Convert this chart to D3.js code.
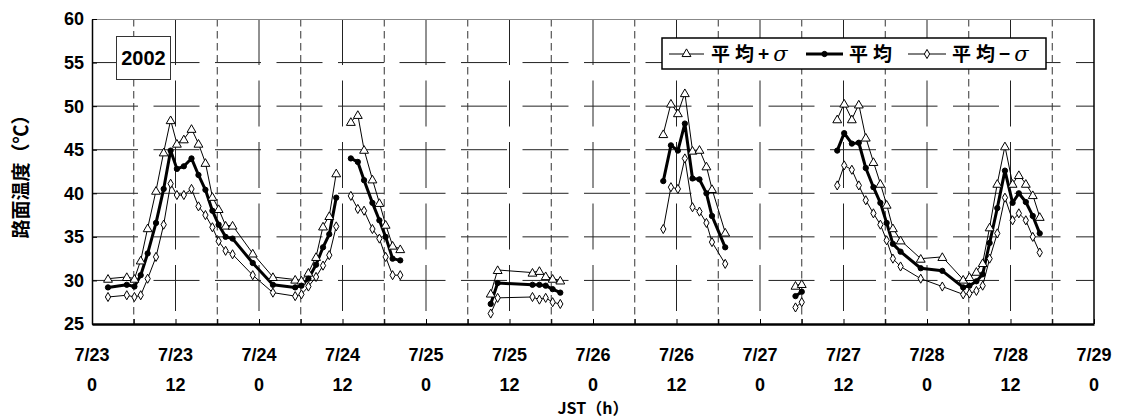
<!DOCTYPE html>
<html>
<head>
<meta charset="utf-8">
<script src="https://cdn.jsdelivr.net/npm/d3@7"></script>
<style>
  body { margin: 0; background: #fff; }
  svg { display: block; }
</style>
</head>
<body>
<svg id="chart" width="1122" height="419"></svg>
<script>
// Hours elapsed since 7/23 00:00 JST; null marks a break in the record.
const hours = [
  2.3, 5.0, 6.1, 7.0, 8.0, 9.2, 10.3, 11.3, 12.2, 13.2, 14.3, 15.3, 16.3, 17.3, 18.2, 19.2, 20.2, 23.1, 26.0, 29.2, 30.1, 31.1, 32.2, 33.2, 34.1, 35.1, null,
  37.2, 38.2, 39.1, 40.3, 41.3, 42.2, 43.2, 44.3, null,
  57.3, 58.3, 63.3, 64.3, 65.2, 66.2, 67.3, null,
  82.1, 83.2, 84.2, 85.2, 86.3, 87.3, 88.3, 89.1, 91.0, null,
  101.1, 102.0, null,
  107.1, 108.1, 109.2, 110.2, 111.2, 112.3, 113.3, 114.2, 115.1, 116.2, 119.1, 122.2, 125.2, 126.1, 127.1, 128.0, 129.0, 130.1, 131.2, 132.3, 133.2, 134.2, 135.2, 136.2
];

// Road surface temperature (°C): mean + sigma
const plusSigma = [
  30.2, 30.4, 30.2, 32.3, 36.0, 40.3, 44.7, 48.4, 45.7, 46.2, 47.4, 45.7, 43.5, 39.6, 38.2, 36.3, 36.3, 33.1, 30.4, 30.1, 30.0, 30.9, 32.7, 36.2, 37.4, 42.3, null,
  48.2, 49.0, 45.0, 41.6, 38.9, 36.4, 34.0, 33.6, null,
  28.5, 31.2, 30.9, 31.1, 30.5, 30.2, 30.0, null,
  46.8, 50.3, 49.2, 51.5, 44.9, 45.0, 43.1, 40.5, 35.5, null,
  29.4, 29.6, null,
  48.5, 50.3, 48.5, 50.2, 46.4, 43.6, 41.1, 38.7, 36.0, 34.6, 32.5, 32.7, 30.1, 30.4, 31.0, 32.0, 36.1, 41.1, 45.4, 41.1, 42.1, 41.1, 39.8, 37.3
];

// Road surface temperature (°C): mean
const meanTemp = [
  29.2, 29.5, 29.3, 30.6, 33.1, 36.6, 40.5, 44.9, 42.8, 43.1, 44.0, 42.1, 40.4, 38.0, 36.4, 35.0, 34.8, 32.0, 29.5, 29.2, 29.4, 30.2, 31.8, 33.8, 35.3, 39.5, null,
  44.0, 43.6, 41.5, 38.9, 36.9, 35.0, 32.5, 32.3, null,
  27.3, 29.7, 29.5, 29.5, 29.4, 29.0, 28.6, null,
  41.4, 45.5, 44.9, 48.0, 41.7, 41.6, 40.0, 37.4, 33.8, null,
  28.2, 28.7, null,
  44.9, 46.9, 45.7, 45.8, 42.9, 40.7, 38.9, 36.6, 34.2, 33.3, 31.4, 31.1, 29.2, 29.4, 29.9, 30.7, 34.3, 38.3, 42.6, 38.9, 40.0, 39.0, 37.4, 35.4
];

// Road surface temperature (°C): mean - sigma
const minusSigma = [
  28.1, 28.3, 28.1, 28.3, 30.2, 32.7, 36.4, 41.1, 39.8, 39.8, 40.5, 38.5, 37.5, 36.1, 34.5, 33.4, 33.0, 30.6, 28.6, 28.2, 28.4, 29.3, 30.4, 31.7, 32.9, 36.2, null,
  39.7, 38.2, 38.0, 35.9, 34.8, 32.7, 30.6, 30.6, null,
  26.2, 28.0, 28.1, 27.8, 28.0, 27.5, 27.3, null,
  35.9, 40.7, 40.5, 44.0, 38.4, 37.9, 36.6, 34.4, 31.9, null,
  26.9, 27.5, null,
  40.9, 43.2, 42.7, 40.9, 39.2, 37.7, 36.4, 34.6, 32.5, 31.6, 30.2, 29.3, 28.4, 28.5, 28.8, 29.4, 32.5, 35.4, 39.5, 36.9, 37.7, 36.9, 35.0, 33.2
];

// Axis labels
const dateLabels = ["7/23", "7/23", "7/24", "7/24", "7/25", "7/25", "7/26", "7/26", "7/27", "7/27", "7/28", "7/28", "7/29"];
const hourLabels = ["0", "12", "0", "12", "0", "12", "0", "12", "0", "12", "0", "12", "0"];
const yTicks = [25, 30, 35, 40, 45, 50, 55, 60];

// Legend entries: Japanese stem + suffix (σ is set in italics)
const seriesNames = [["平均", "+", "σ"], ["平均", "", ""], ["平均", "−", "σ"]];
const yearLabel = "2002";

// ---- layout ----
const svg = d3.select("#chart");
const plot = { left: 92, right: 1094, top: 19, bottom: 324 };
const numFont = "'Liberation Sans', Arial, sans-serif";
const cjkFont = "'Noto Sans CJK JP', 'Liberation Sans', sans-serif";

const x = d3.scaleLinear().domain([0, 144]).range([plot.left, plot.right]);
const y = d3.scaleLinear().domain([25, 60]).range([plot.bottom, plot.top]);

// ---- grid ----
const grid = svg.append("g");
// horizontal gridlines
grid.selectAll("line.h").data(yTicks.filter(v => v > 25 && v < 60)).join("line")
  .attr("x1", plot.left).attr("x2", plot.right)
  .attr("y1", d => y(d)).attr("y2", d => y(d))
  .attr("stroke", "#222").attr("stroke-width", 1)
  .attr("stroke-dasharray", "46,15.5");
// vertical gridlines: 12 h long dashes, 6 h short dashes
const vHours = d3.range(6, 144, 6);
grid.selectAll("line.v").data(vHours).join("line")
  .attr("x1", d => x(d)).attr("x2", d => x(d))
  .attr("y1", plot.top).attr("y2", plot.bottom)
  .attr("stroke", d => d % 12 === 0 ? "#222" : "#333").attr("stroke-width", 1)
  .attr("stroke-dasharray", d => d % 12 === 0 ? "46,15.5" : "7.5,4.5");

// ---- frame and axes ----
svg.append("line").attr("x1", plot.left).attr("x2", plot.right)
  .attr("y1", plot.top + 0.5).attr("y2", plot.top + 0.5)
  .attr("stroke", "#888").attr("stroke-width", 1);
svg.append("line").attr("x1", plot.right).attr("x2", plot.right)
  .attr("y1", plot.top).attr("y2", plot.bottom)
  .attr("stroke", "#000").attr("stroke-width", 1.5);

const xAxis = d3.axisBottom(x).tickValues(d3.range(0, 145, 6))
  .tickSizeInner(-5).tickSizeOuter(0).tickFormat("");
svg.append("g").attr("transform", `translate(0,${plot.bottom})`).call(xAxis)
  .call(g => g.select(".domain").attr("stroke", "#000").attr("stroke-width", 2.5))
  .call(g => g.selectAll(".tick line").attr("stroke", "#000").attr("stroke-width", 1));

const yAxis = d3.axisLeft(y).tickValues(yTicks).tickSizeInner(-5).tickSizeOuter(0).tickFormat("");
svg.append("g").attr("transform", `translate(${plot.left},0)`).call(yAxis)
  .call(g => g.select(".domain").attr("stroke", "#000").attr("stroke-width", 1.5))
  .call(g => g.selectAll(".tick line").attr("stroke", "#000"));

// y tick labels
svg.append("g").selectAll("text").data(yTicks).join("text")
  .attr("x", 84).attr("y", d => y(d)).attr("dy", "0.36em")
  .attr("text-anchor", "end")
  .attr("font-family", numFont).attr("font-weight", "bold").attr("font-size", 18)
  .text(d => d);

// x tick labels: date over hour
const xLab = svg.append("g").selectAll("g").data(dateLabels).join("g")
  .attr("transform", (d, i) => `translate(${x(i * 12)},0)`);
xLab.append("text").attr("y", 361).attr("text-anchor", "middle")
  .attr("font-family", numFont).attr("font-weight", "bold").attr("font-size", 18)
  .text(d => d);
xLab.append("text").attr("y", 391).attr("text-anchor", "middle")
  .attr("font-family", numFont).attr("font-weight", "bold").attr("font-size", 18)
  .text((d, i) => hourLabels[i]);

// axis titles
svg.append("text").attr("x", (plot.left + plot.right) / 2).attr("y", 414)
  .attr("text-anchor", "middle")
  .attr("font-family", cjkFont).attr("font-weight", "bold").attr("font-size", 16)
  .text("JST（h）");
svg.append("text").attr("transform", "translate(28,172) rotate(-90)")
  .attr("text-anchor", "middle")
  .attr("font-family", cjkFont).attr("font-weight", "bold").attr("font-size", 19)
  .text("路面温度（℃）");

// ---- series ----
const rows = hours.map((h, i) => ({ h, p: plusSigma[i], m: meanTemp[i], n: minusSigma[i] }));
const lineFor = key => d3.line().defined(d => d.h != null && d[key] != null)
  .x(d => x(d.h)).y(d => y(d[key]));

const series = [
  { key: "n", width: 1, marker: "diamond" },
  { key: "p", width: 1, marker: "triangle" },
  { key: "m", width: 3, marker: "circle" }
];

const triSym = d3.symbol().type(d3.symbolTriangle).size(34);
const diaSym = d3.symbol().type(d3.symbolDiamond).size(24);
const dotSym = d3.symbol().type(d3.symbolCircle).size(22);

series.forEach(s => {
  svg.append("path").datum(rows).attr("d", lineFor(s.key))
    .attr("fill", "none").attr("stroke", "#000").attr("stroke-width", s.width)
    .attr("stroke-linejoin", "round");
});
series.forEach(s => {
  const pts = rows.filter(d => d.h != null && d[s.key] != null);
  const sym = s.marker === "triangle" ? triSym : s.marker === "diamond" ? diaSym : dotSym;
  svg.append("g").selectAll("path").data(pts).join("path")
    .attr("transform", d => `translate(${x(d.h)},${y(d[s.key]) + (s.marker === "triangle" ? 1 : 0)})`)
    .attr("d", sym)
    .attr("fill", s.marker === "circle" ? "#000" : "#fff")
    .attr("stroke", "#000").attr("stroke-width", 1);
});

// ---- year box ----
svg.append("rect").attr("x", 116.5).attr("y", 36.5).attr("width", 54).attr("height", 43)
  .attr("fill", "#fff").attr("stroke", "#333").attr("stroke-width", 1);
svg.append("text").attr("x", 143.5).attr("y", 58).attr("dy", "0.36em")
  .attr("text-anchor", "middle")
  .attr("font-family", numFont).attr("font-weight", "bold").attr("font-size", 20)
  .text(yearLabel);

// ---- legend ----
const legend = svg.append("g");
legend.append("rect").attr("x", 662).attr("y", 38).attr("width", 384).attr("height", 31)
  .attr("fill", "#fff").attr("stroke", "#000").attr("stroke-width", 1.5);
const legendItems = [
  { name: seriesNames[0], x0: 669, x1: 704, tx: 711, width: 1, sym: triSym, fill: "#fff" },
  { name: seriesNames[1], x0: 806, x1: 843, tx: 849, width: 3, sym: dotSym, fill: "#000" },
  { name: seriesNames[2], x0: 908, x1: 946, tx: 952, width: 1, sym: diaSym, fill: "#fff" }
];
const ly = 54;
legendItems.forEach(it => {
  legend.append("line").attr("x1", it.x0).attr("x2", it.x1).attr("y1", ly).attr("y2", ly)
    .attr("stroke", "#000").attr("stroke-width", it.width);
  legend.append("path").attr("transform", `translate(${(it.x0 + it.x1) / 2},${ly})`)
    .attr("d", it.sym).attr("fill", it.fill).attr("stroke", "#000");
  const t = legend.append("text").attr("x", it.tx).attr("y", ly).attr("dy", "0.36em")
    .attr("font-family", cjkFont).attr("font-weight", "bold").attr("font-size", 19);
  t.append("tspan").attr("letter-spacing", 5).text(it.name[0]);
  if (it.name[1]) {
    t.append("tspan").attr("dx", -1).text(it.name[1]);
    t.append("tspan").attr("dx", 4)
      .attr("font-family", "'DejaVu Serif', 'Liberation Serif', serif")
      .attr("font-style", "italic").attr("font-weight", "normal").attr("font-size", 21)
      .text(it.name[2]);
  }
});
</script>
</body>
</html>
